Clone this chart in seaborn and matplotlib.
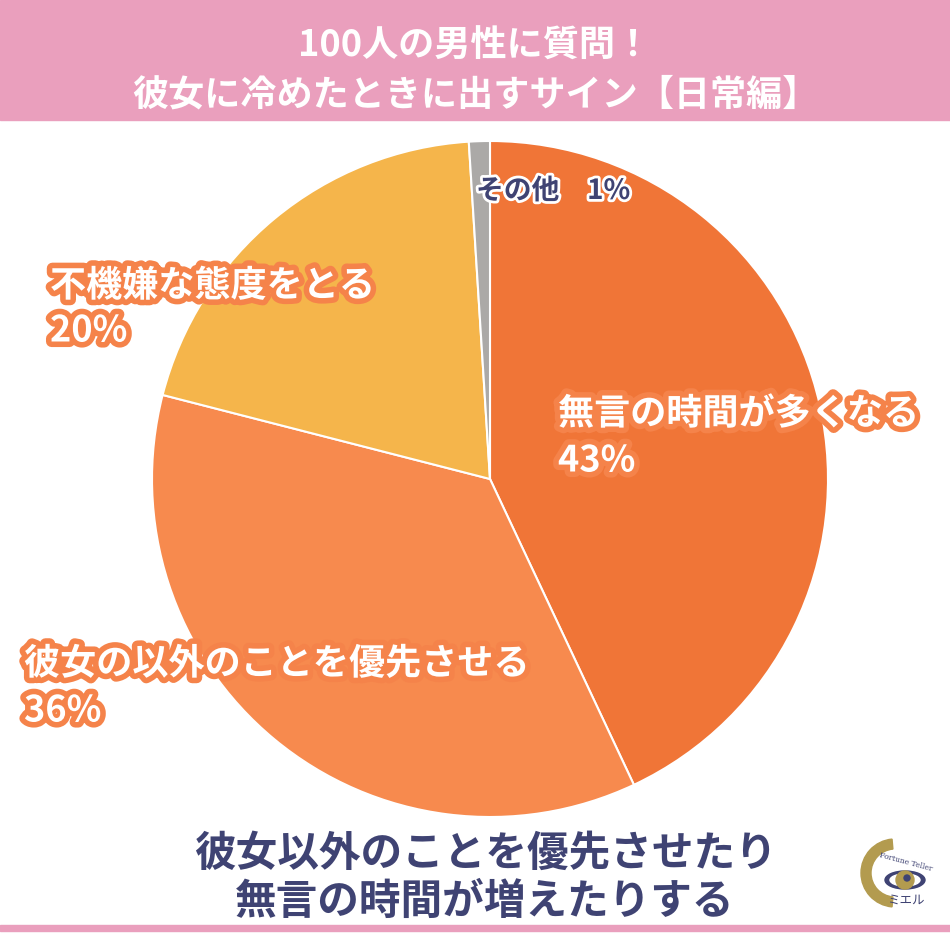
import matplotlib
matplotlib.use("Agg")
import matplotlib.pyplot as plt
import matplotlib.patheffects as pe
from matplotlib.patches import Rectangle, Circle, Wedge, Ellipse
import seaborn as sns

# Data
categories = ["無言の時間が多くなる", "彼女の以外のことを優先させる", "不機嫌な態度をとる", "その他"]
values = [43, 36, 20, 1]
colors = ["#F07537", "#F78A4E", "#F5B54B", "#ABA9A7"]
title_lines = ["100人の男性に質問！", "彼女に冷めたときに出すサイン【日常編】"]
summary_lines = ["彼女以外のことを優先させたり", "無言の時間が増えたりする"]

sns.set_theme(style="white")
plt.rcParams["font.family"] = ["Noto Sans CJK JP", "DejaVu Sans"]

W = 950
fig = plt.figure(figsize=(9.5, 9.5), dpi=100)
fig.patch.set_facecolor("white")

# background axes in pixel coords
bg = fig.add_axes([0, 0, 1, 1])
bg.set_xlim(0, W)
bg.set_ylim(W, 0)
bg.axis("off")

# header band
bg.add_patch(Rectangle((0, 0), W, 120, color="#EA9FBD", zorder=0))
bg.text(475, 46, title_lines[0], ha="center", va="center", color="white",
        fontsize=26, fontweight="bold")
bg.text(475, 95, title_lines[1], ha="center", va="center", color="white",
        fontsize=26, fontweight="bold")

# bottom pink line
bg.add_patch(Rectangle((0, 925), W, 6, color="#EA9FBD", zorder=0))

# pie
cx, cy, r = 490, 479, 338
pie_ax = fig.add_axes([(cx - r) / W, (W - cy - r) / W, 2 * r / W, 2 * r / W])
pie_ax.pie(values, colors=colors, startangle=90, counterclock=False,
           radius=1, wedgeprops=dict(edgecolor="white", linewidth=1.5))
pie_ax.set_xlim(-1, 1)
pie_ax.set_ylim(-1, 1)
pie_ax.set_aspect("equal")
pie_ax.axis("off")

# labels on top
lab = fig.add_axes([0, 0, 1, 1])
lab.set_xlim(0, W)
lab.set_ylim(W, 0)
lab.axis("off")
lab.patch.set_alpha(0)

outline = [pe.withStroke(linewidth=8, foreground="#F5834A")]
big = dict(color="white", fontsize=26, fontweight="bold", va="center", ha="left",
           path_effects=outline)

lab.text(558, 414, categories[0], **big)
lab.text(558, 461, f"{values[0]}%", **big)
lab.text(50, 286, categories[2], **big)
lab.text(50, 331, f"{values[2]}%", **big)
lab.text(24, 664, categories[1], **big)
lab.text(24, 711, f"{values[1]}%", **big)
lab.text(476, 191, f"{categories[3]}　{values[3]}%", color="#3F4373", fontsize=20,
         fontweight="bold", va="center", ha="left",
         path_effects=[pe.withStroke(linewidth=4, foreground="white")])

# summary
for i, line in enumerate(summary_lines):
    lab.text(485, 854 + i * 48, line, ha="center", va="center", color="#3F4373",
             fontsize=30, fontweight="bold")

# logo
lab.add_patch(Wedge((895, 873), 34, 95, 265, width=10, color="#B39B4F"))
lab.add_patch(Ellipse((905, 880), 40, 18, color="#3F4373"))
lab.add_patch(Ellipse((905, 880), 30, 12, color="white"))
lab.add_patch(Circle((905, 880), 9, color="#B39B4F"))
lab.add_patch(Circle((907, 878), 3, color="#3F4373"))
lab.text(906, 862, "Fortune Teller", ha="center", va="center", color="#3F4373",
         fontsize=5.5, rotation=-15, family=["DejaVu Serif"])
lab.text(906, 900, "ミエル", ha="center", va="center", color="#3F4373", fontsize=9)

fig.savefig("out.png", dpi=100, facecolor="white")
